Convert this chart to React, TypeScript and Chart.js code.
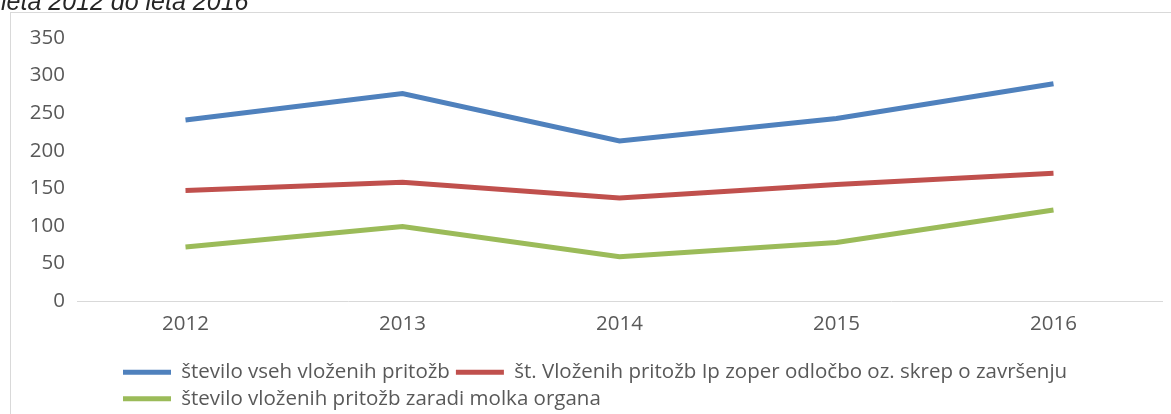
import React, { useEffect, useRef } from 'react';
import { Chart, registerables } from 'chart.js';

Chart.register(...registerables);

const titleText = 'leta 2012 do leta 2016';
const categories = ['2012', '2013', '2014', '2015', '2016'];
const seriesLabels = [
  'število vseh vloženih pritožb',
  'št. Vloženih pritožb Ip zoper odločbo oz. skrep o završenju',
  'število vloženih pritožb zaradi molka organa',
];
const allComplaints = [241, 276, 213, 243, 289];
const ipComplaints = [147, 158, 137, 155, 170];
const silenceComplaints = [72, 99, 59, 78, 121];
const seriesColors = ['#4F81BD', '#C0504D', '#9BBB59'];
const yMin = 0;
const yMax = 350;
const yStep = 50;

const TEXT = '#595959';
const FONT = 'Open Sans';
const FSIZE = 20.5;

const framePlugin = {
  id: 'frame',
  beforeDraw(chart: any) {
    const ctx = chart.ctx;
    ctx.save();
    ctx.strokeStyle = '#D9D9D9';
    ctx.lineWidth = 1;
    ctx.strokeRect(10.5, 12.5, chart.width + 40, chart.height + 40);
    ctx.restore();
    if (chart.legend) chart.legend.left = 117;
    if (chart.titleBlock) chart.titleBlock.left = 1;
  },
};

export default function App() {
  const ref = useRef<HTMLCanvasElement | null>(null);

  useEffect(() => {
    document.body.style.margin = '0';
    if (!ref.current) return;
    const values = [allComplaints, ipComplaints, silenceComplaints];
    const chart = new Chart(ref.current, {
      type: 'line',
      data: {
        labels: categories,
        datasets: values.map((v, i) => ({
          label: seriesLabels[i],
          data: v,
          borderColor: seriesColors[i],
          backgroundColor: seriesColors[i],
          borderWidth: 5,
          pointRadius: 0,
          pointHoverRadius: 0,
          tension: 0,
          fill: false,
        })),
      },
      options: {
        responsive: false,
        animation: false,
        layout: { padding: { left: 19, right: 9, top: 0, bottom: -5 } },
        plugins: {
          title: {
            display: true,
            text: titleText,
            align: 'start',
            color: '#262626',
            font: { family: 'Liberation Sans', size: 25, style: 'italic', weight: 'normal' },
            padding: { top: -11.5, bottom: 19.5 },
          },
          legend: {
            position: 'bottom',
            align: 'start',
            labels: {
              font: { family: FONT, size: FSIZE },
              color: TEXT,
              boxWidth: 48,
              boxHeight: 5,
              padding: 6,
              generateLabels: (c: any) =>
                c.data.datasets.map((d: any, i: number) => ({
                  text: d.label,
                  fillStyle: d.borderColor,
                  strokeStyle: d.borderColor,
                  lineWidth: 0,
                  hidden: false,
                  datasetIndex: i,
                  fontColor: TEXT,
                })),
            },
          },
          tooltip: { enabled: false },
        },
        scales: {
          x: {
            type: 'category',
            offset: true,
            grid: { color: 'rgba(0,0,0,0)', drawTicks: false },
            border: { display: true, color: '#D9D9D9', width: 1 },
            ticks: { font: { family: FONT, size: FSIZE }, color: TEXT, padding: 11, maxRotation: 0 },
            afterFit: (s: any) => {
              s.height = 55;
            },
          },
          y: {
            min: yMin,
            max: yMax,
            grid: { display: false, drawTicks: false },
            border: { display: false },
            ticks: { stepSize: yStep, font: { family: FONT, size: FSIZE }, color: TEXT, padding: 12 },
            afterFit: (s: any) => {
              s.width = 58;
            },
          },
        },
      } as any,
      plugins: [framePlugin],
    });
    return () => chart.destroy();
  }, []);

  return <canvas ref={ref} width={1171} height={414} style={{ display: 'block' }} />;
}
